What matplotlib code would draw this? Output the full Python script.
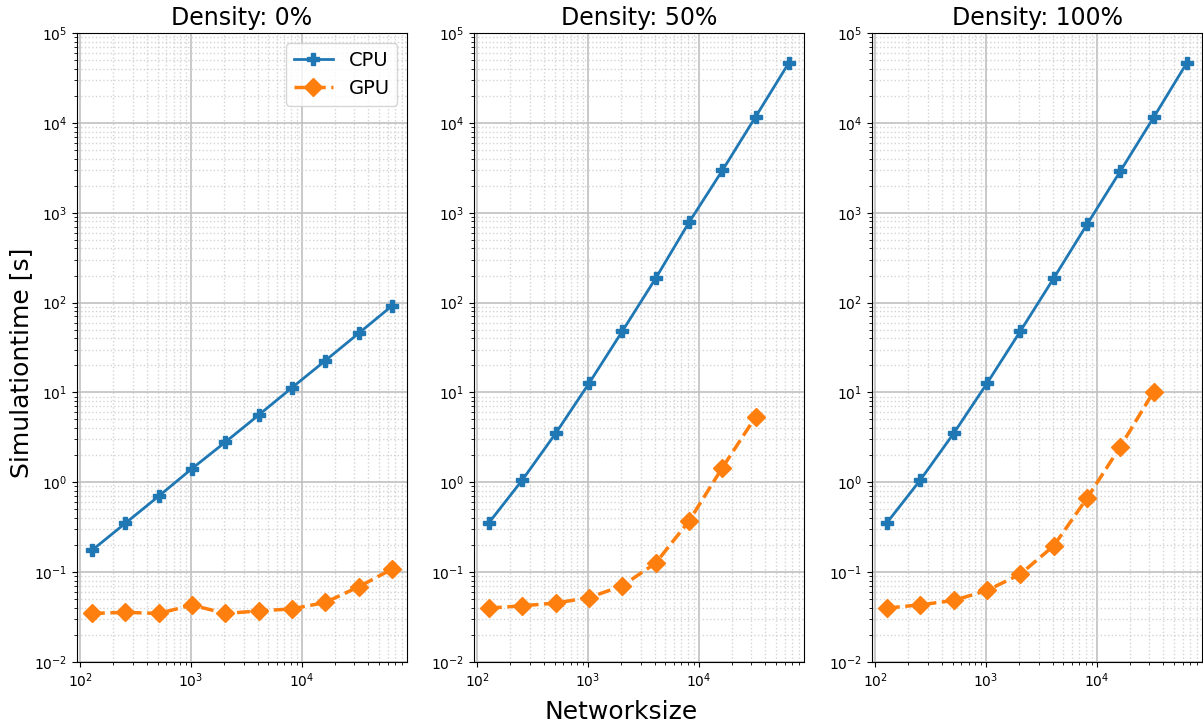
import matplotlib
matplotlib.use("Agg")
import matplotlib.pyplot as plt
from matplotlib.ticker import NullFormatter

sizes = [128, 256, 512, 1024, 2048, 4096, 8192, 16384, 32768, 65536]
densities = ["0%", "50%", "100%"]

cpu_0 = [0.175, 0.35, 0.70, 1.42, 2.8, 5.6, 11.3, 22.6, 45.5, 92]
gpu_0 = [0.0347, 0.0357, 0.0347, 0.043, 0.0347, 0.037, 0.039, 0.046, 0.0687, 0.108]

cpu_50 = [0.355, 1.06, 3.5, 12.6, 48, 186, 780, 2950, 11700, 46800]
gpu_50 = [0.0398, 0.0422, 0.0453, 0.052, 0.0705, 0.126, 0.37, 1.45, 5.36]

cpu_100 = [0.355, 1.06, 3.5, 12.6, 48, 186, 740, 2900, 11500, 46800]
gpu_100 = [0.0398, 0.0433, 0.0484, 0.0625, 0.095, 0.196, 0.664, 2.49, 10.2]

cpu_all = [cpu_0, cpu_50, cpu_100]
gpu_all = [gpu_0, gpu_50, gpu_100]

fig = plt.figure(figsize=(12.03, 7.27), dpi=100)
lefts = [77, 474, 872]
for k in range(3):
    ax = fig.add_axes([lefts[k] / 1203, 1 - 662 / 727, 330 / 1203, 629 / 727])
    cpu = cpu_all[k]
    gpu = gpu_all[k]
    ax.plot(sizes[:len(cpu)], cpu, marker="P", linestyle="-", lw=2, ms=9,
            color="#1f77b4", label="CPU")
    ax.plot(sizes[:len(gpu)], gpu, marker="D", linestyle="--", lw=2.5, ms=9,
            color="#ff7f0e", label="GPU")
    ax.set_xscale("log")
    ax.set_yscale("log")
    ax.set_xlim(10 ** 1.972, 10 ** 4.952)
    ax.set_ylim(1e-2, 1e5)
    ax.xaxis.set_minor_formatter(NullFormatter())
    ax.yaxis.set_minor_formatter(NullFormatter())
    ax.grid(True, which="major", color="#c0c0c0", lw=1.2)
    ax.grid(True, which="minor", color="#d4d4d4", ls=":", lw=1)
    ax.set_title("Density: " + densities[k], fontsize=17)
    if k == 0:
        ax.legend(fontsize=14, loc="upper right")

fig.text(21 / 1203, 1 - 363 / 727, "Simulationtime [s]", fontsize=18,
         rotation=90, ha="center", va="center")
fig.text(621 / 1203, 1 - 712 / 727, "Networksize", fontsize=18,
         ha="center", va="center")

fig.savefig("out.png", dpi=100)
